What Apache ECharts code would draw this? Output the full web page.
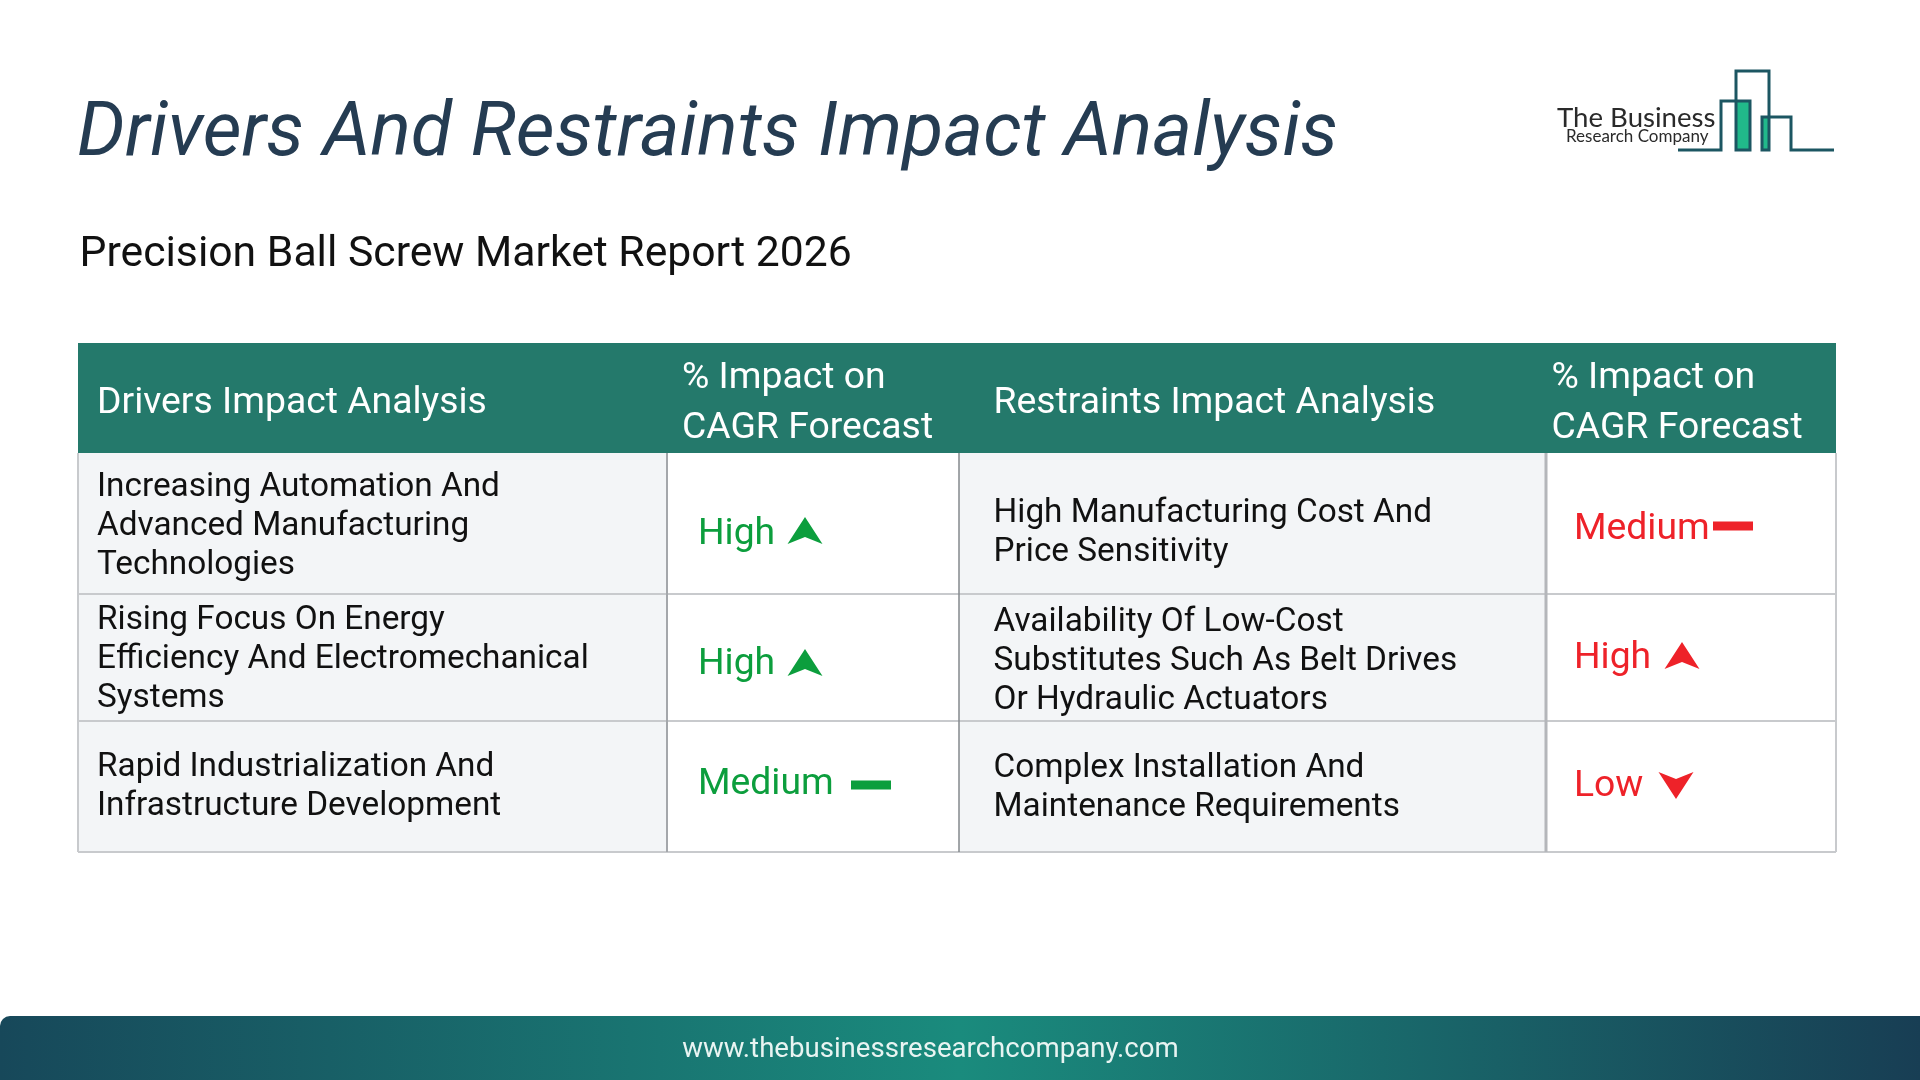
<!DOCTYPE html>
<html lang="en">

<head>
    <meta charset="UTF-8">
    <title>Drivers And Restraints Impact Analysis</title>
    <script src="https://cdn.jsdelivr.net/npm/echarts@6/dist/echarts.min.js"></script>
    <style>
        html, body { margin: 0; padding: 0; background: #fff; }
        #main { width: 1920px; height: 1080px; }
    </style>
</head>

<body>
    <div id="main"></div>
    <script>
        var titleText = 'Drivers And Restraints Impact Analysis';
        var subtitleText = 'Precision Ball Screw Market Report 2026';
        var footerText = 'www.thebusinessresearchcompany.com';
        var logoLines = ['The Business', 'Research Company'];

        var headers = ['Drivers Impact Analysis', '% Impact on\nCAGR Forecast', 'Restraints Impact Analysis', '% Impact on\nCAGR Forecast'];
        var drivers = [
            'Increasing Automation And\nAdvanced Manufacturing\nTechnologies',
            'Rising Focus On Energy\nEfficiency And Electromechanical\nSystems',
            'Rapid Industrialization And\nInfrastructure Development'
        ];
        var driverImpact = ['High', 'High', 'Medium'];
        var restraints = [
            'High Manufacturing Cost And\nPrice Sensitivity',
            'Availability Of Low-Cost\nSubstitutes Such As Belt Drives\nOr Hydraulic Actuators',
            'Complex Installation And\nMaintenance Requirements'
        ];
        var restraintImpact = ['Medium', 'High', 'Low'];

        // layout of the table, in page pixels
        var colX = [78, 667, 959, 1546, 1836];
        var rowY = [343, 453, 594, 721, 852];
        var GREEN = '#0c9e3d', RED = '#ee2229', LINE = '#c8cacd';

        var g = [];

        function rect (x, y, w, h, fill, r) {
            g.push({ type: 'rect', shape: { x: x, y: y, width: w, height: h, r: r || 0 }, style: { fill: fill }, silent: true });
        }
        function line (x1, y1, x2, y2, color, w) {
            g.push({ type: 'line', shape: { x1: x1, y1: y1, x2: x2, y2: y2 }, style: { stroke: color, lineWidth: w }, silent: true });
        }
        function poly (points, color) {
            g.push({ type: 'polygon', shape: { points: points }, style: { fill: color }, silent: true });
        }
        function text (str, x, y, size, color, lineHeight, extra) {
            g.push({
                type: 'text', x: x, y: y, silent: true,
                style: Object.assign({
                    text: str, fill: color, font: size + 'px Roboto',
                    lineHeight: lineHeight, verticalAlign: 'middle', align: 'left'
                }, extra || {})
            });
        }

        // impact label + its little arrow or dash
        function impactMark (label, x, y, color, mx, my) {
            text(label, x, y, 37.3, color, 44);
            if (label == 'High') {
                poly([[mx, my - 14], [mx + 17.5, my + 13], [mx, my + 6], [mx - 17.5, my + 13]], color);
            } else if (label == 'Low') {
                poly([[mx, my + 14], [mx + 17.5, my - 13], [mx, my - 6], [mx - 17.5, my - 13]], color);
            } else {
                rect(mx - 20, my - 4.5, 40, 9, color);
            }
        }

        // cells
        rect(colX[0], rowY[1], colX[1] - colX[0], rowY[4] - rowY[1], '#f3f5f7');
        rect(colX[2], rowY[1], colX[3] - colX[2], rowY[4] - rowY[1], '#f3f5f7');
        rect(colX[0], rowY[0], colX[4] - colX[0], rowY[1] - rowY[0], '#24796b');

        // grid lines
        for (var i = 2; i < rowY.length; i++) {
            line(colX[0], rowY[i], colX[4], rowY[i], LINE, 2);
        }
        line(colX[0], rowY[1], colX[0], rowY[4], LINE, 2);
        line(colX[1], rowY[1], colX[1], rowY[4], '#a4a7ab', 2);
        line(colX[2], rowY[1], colX[2], rowY[4], '#85888c', 1.5);
        line(colX[3], rowY[1], colX[3], rowY[4], '#b4b6ba', 3);
        line(colX[4], rowY[1], colX[4], rowY[4], LINE, 2);

        // header text
        var headerTextX = [97, 682, 993.5, 1551.5];
        headers.forEach(function (h, i) {
            text(h, headerTextX[i], 403.5, 37.35, '#ffffff', 49.5);
        });

        // body text
        var driverY = [527, 660, 787.5];
        var restraintY = [533, 662, 788.5];
        drivers.forEach(function (d, i) {
            text(d, 97, driverY[i], 33.35, '#111111', 39);
        });
        restraints.forEach(function (d, i) {
            text(d, 993.5, restraintY[i], 33.35, '#111111', 39);
        });

        // impact cells
        var driverMark = [[805, 531], [805, 663], [871, 785]];
        var driverLabelY = [535, 665, 785];
        driverImpact.forEach(function (v, i) {
            impactMark(v, 698, driverLabelY[i], GREEN, driverMark[i][0], driverMark[i][1]);
        });
        var restraintMark = [[1733, 526], [1682, 656], [1676, 785]];
        var restraintLabelY = [530, 659, 787];
        restraintImpact.forEach(function (v, i) {
            impactMark(v, 1574, restraintLabelY[i], RED, restraintMark[i][0], restraintMark[i][1]);
        });

        // footer band
        rect(0, 1016, 1920, 64, {
            type: 'linear', x: 0, y: 0, x2: 1, y2: 0,
            colorStops: [
                { offset: 0, color: '#17485a' },
                { offset: 0.5, color: '#1a8b7d' },
                { offset: 1, color: '#183e54' }
            ]
        }, [10, 0, 0, 0]);
        text(footerText, 930.5, 1050, 27.6, '#e8f4f2', 32, { align: 'center', font: '27.6px Roboto' });

        // logo
        var LOGO = '#1c5662';
        rect(1736, 101, 14, 49, '#21b98a');
        rect(1762, 117, 7, 33, '#21b98a');
        [
            [[1678, 150], [1721, 150], [1721, 101], [1750, 101], [1750, 150], [1736, 150], [1736, 71], [1769, 71], [1769, 150], [1762, 150], [1762, 117], [1791, 117], [1791, 150], [1834, 150]]
        ].forEach(function (pts) {
            g.push({ type: 'polyline', shape: { points: pts }, style: { stroke: LOGO, lineWidth: 3, fill: null }, silent: true });
        });
        text(logoLines[0], 1557, 118, 27.6, '#2a2a2a', 34, { font: '400 27.6px Lato' });
        text(logoLines[1], 1566, 137, 17, '#2a2a2a', 20, { font: '400 17px Lato' });

        var myChart = echarts.init(document.getElementById('main'), null, { renderer: 'canvas' });
        myChart.setOption({
            animation: false,
            backgroundColor: '#ffffff',
            title: [{
                text: titleText, left: 72, top: 93,
                textStyle: { fontFamily: 'Roboto', fontStyle: 'italic', fontWeight: 400, fontSize: 75.5, color: '#253c52' }
            }, {
                text: subtitleText, left: 74.5, top: 229,
                textStyle: { fontFamily: 'Roboto', fontWeight: 400, fontSize: 42.7, color: '#111111' }
            }],
            graphic: { elements: g }
        });
    </script>
</body>

</html>
